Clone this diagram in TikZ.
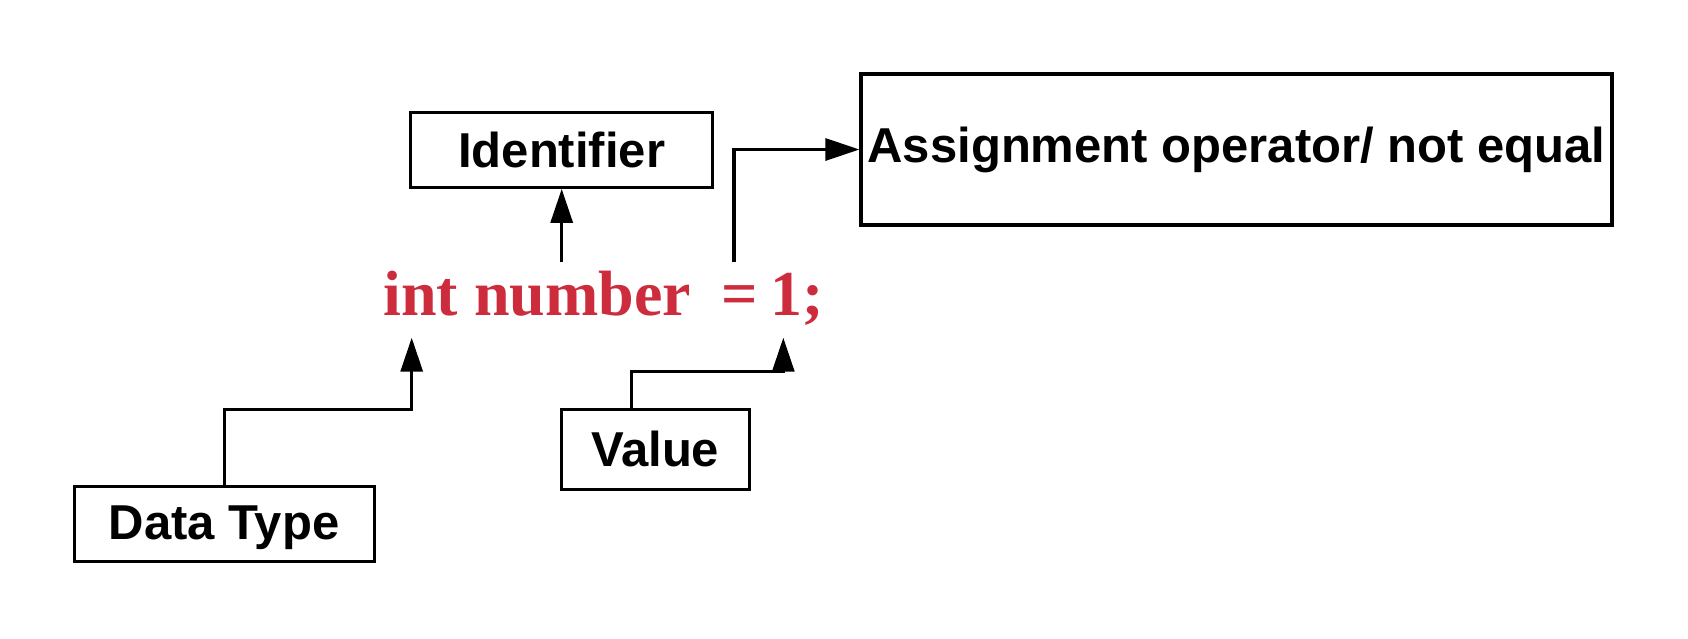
\documentclass[tikz,border=0pt]{standalone}
\usepackage{fontspec}
\setmainfont{Liberation Sans}
\newfontfamily\codefont{Liberation Serif}
\usetikzlibrary{positioning,arrows.meta,calc}
\definecolor{codered}{RGB}{204,44,60}

\begin{document}
\begin{tikzpicture}[x=0.5pt,y=-0.5pt,>={Triangle[length=17pt,width=11pt]},
  lbl/.style={draw,line width=1.6pt,font=\fontsize{24.5}{29}\selectfont\bfseries,inner sep=0pt,minimum height=37.5pt},
  code/.style={inner sep=0pt,anchor=base west,text=codered,font=\codefont\fontsize{32}{38}\selectfont\bfseries},
  flow/.style={->,line width=1.6pt}]
  \useasboundingbox (0,0) rectangle (1688,638);
  % the statement and the points the arrows touch
  \node[code] (code) at (383,315) {int number};
  \node[code] (eqs) at (721,315) {=};
  \node[code] (one) at (770,315) {1;};
  \coordinate (pint) at (411.7,337.7);
  \coordinate (pnum) at (561.7,262.3);
  \coordinate (peq) at (734,262.3);
  \coordinate (pone) at (783.3,337.7);
  % labels
  \node[lbl,minimum width=151pt] (idf) at (561.7,149.8) {Identifier};
  \node[lbl,minimum width=375.5pt,minimum height=75.5pt] (asg) at (1236.5,149.5) {Assignment operator/ not equal};
  \node[lbl,minimum width=94pt,minimum height=40pt] (val) at (655.2,449.2) {Value};
  \node[lbl,minimum width=150pt,text depth=2pt] (dtype) at (224.1,524.2) {Data Type};
  % arrows
  \draw[flow] (pnum) -- (idf.south);
  \draw[flow] (peq) |- (asg.west);
  \draw[flow] (dtype.north) -- ++(0,-75.7) -| (pint);
  \draw[flow] ([xshift=-11.75pt]val.north) -- ++(0,-36.5) -| (pone);
\end{tikzpicture}
\end{document}
